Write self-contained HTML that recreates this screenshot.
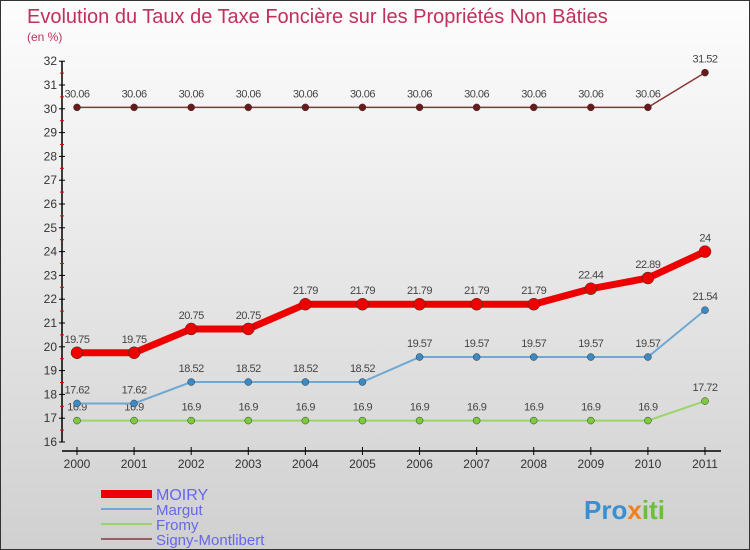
<!DOCTYPE html>
<html><head><meta charset="utf-8"><style>
body{margin:0;}
#c{width:750px;height:550px;position:relative;box-sizing:border-box;border:1px solid #333;background:linear-gradient(#fdfdfd,#d0d0d0);font-family:"Liberation Sans",sans-serif;overflow:hidden}
</style></head><body>
<div id="c">
<svg width="750" height="550" style="position:absolute;left:0;top:0">
<text x="26" y="22" font-size="20" fill="#c0305a">Evolution du Taux de Taxe Foncière sur les Propriétés Non Bâties</text>
<text x="26" y="40" font-size="12" fill="#c0305a">(en %)</text>
<g id="ax"></g><g id="series"></g>
<g>
<rect x="100" y="489" width="51" height="8" fill="#e00"/>
<text x="155" y="499" font-size="16" fill="#6666ee">MOIRY</text>
<line x1="100" y1="508" x2="151" y2="508" stroke="#6fa8d0" stroke-width="2"/>
<text x="155" y="514" font-size="15" fill="#6666ee">Margut</text>
<line x1="100" y1="523" x2="151" y2="523" stroke="#9bd46b" stroke-width="2"/>
<text x="155" y="529" font-size="15" fill="#6666ee">Fromy</text>
<line x1="100" y1="538" x2="151" y2="538" stroke="#946060" stroke-width="2"/>
<text x="155" y="544" font-size="15" fill="#6666ee">Signy-Montlibert</text>
</g>
<text x="583" y="518" font-size="26" font-weight="bold" fill="#3a8fd0">Pro<tspan fill="#f08020">x</tspan><tspan fill="#6bbf3a">iti</tspan></text>
</svg>
</div>
<script>
const years=[2000,2001,2002,2003,2004,2005,2006,2007,2008,2009,2010,2011];
const yTicks=[16,17,18,19,20,21,22,23,24,25,26,27,28,29,30,31,32];
const moiry=[19.75,19.75,20.75,20.75,21.79,21.79,21.79,21.79,21.79,22.44,22.89,24];
const margut=[17.62,17.62,18.52,18.52,18.52,18.52,19.57,19.57,19.57,19.57,19.57,21.54];
const fromy=[16.9,16.9,16.9,16.9,16.9,16.9,16.9,16.9,16.9,16.9,16.9,17.72];
const signy=[30.06,30.06,30.06,30.06,30.06,30.06,30.06,30.06,30.06,30.06,30.06,31.52];
const NS="http://www.w3.org/2000/svg";
const X=i=>76+i*(704-76)/(years.length-1);
const Y=v=>441-(v-16)*23.8;
function mk(t,a,p){const e=document.createElementNS(NS,t);for(const k in a)e.setAttribute(k,a[k]);p.appendChild(e);return e;}
const ax=document.getElementById('ax');
let l=mk('line',{x1:61,y1:Y(32),x2:61,y2:Y(16),stroke:'#000','stroke-width':1.5},ax);


l=mk('line',{x1:61,y1:450,x2:720,y2:450,stroke:'#000','stroke-width':1.5},ax);


yTicks.forEach(v=>{
 mk('line',{x1:58,y1:Y(v),x2:64,y2:Y(v),stroke:'#000'},ax);
 mk('line',{x1:59,y1:Y(v+0.5),x2:63,y2:Y(v+0.5),stroke:v<32?'#e00':'none'},ax);
 const t=mk('text',{x:56,y:Y(v)+4,'font-size':12,'text-anchor':'end',fill:'#333'},ax);t.textContent=v;
 
 
});
years.forEach((y,i)=>{
 mk('line',{x1:X(i),y1:446,x2:X(i),y2:454,stroke:'#000'},ax);
 const t=mk('text',{x:X(i),y:467,'font-size':12,'text-anchor':'middle',fill:'#333'},ax);t.textContent=y;
 
 
});
const sg=document.getElementById('series');
function draw(vals,color,w,r,name,fill){
 const g=mk('g',{},sg);
 
 
 mk('polyline',{points:vals.map((v,i)=>X(i)+','+Y(v)).join(' '),fill:'none',stroke:color,'stroke-width':w},g);
 vals.forEach((v,i)=>{
  const c=mk('circle',{cx:X(i),cy:Y(v),r:r,fill:fill,stroke:'#333','stroke-width':0.5},g);
  
  
  const t=mk('text',{x:X(i),y:Y(v)-10,'font-size':11,'text-anchor':'middle',fill:'#444','letter-spacing':'-0.5'},g);
  t.textContent=v;
  
  
 });
}
draw(fromy,'#9bd46b',2,3.5,'fromy','#7ccb3a');
draw(margut,'#6fa8d0',2,3.5,'margut','#3a8ac8');
draw(signy,'#8a3535',1.5,3.5,'signy','#6a1a1a');
draw(moiry,'#ee0000',7,6,'moiry','#ee0000');
</script>
</body></html>
